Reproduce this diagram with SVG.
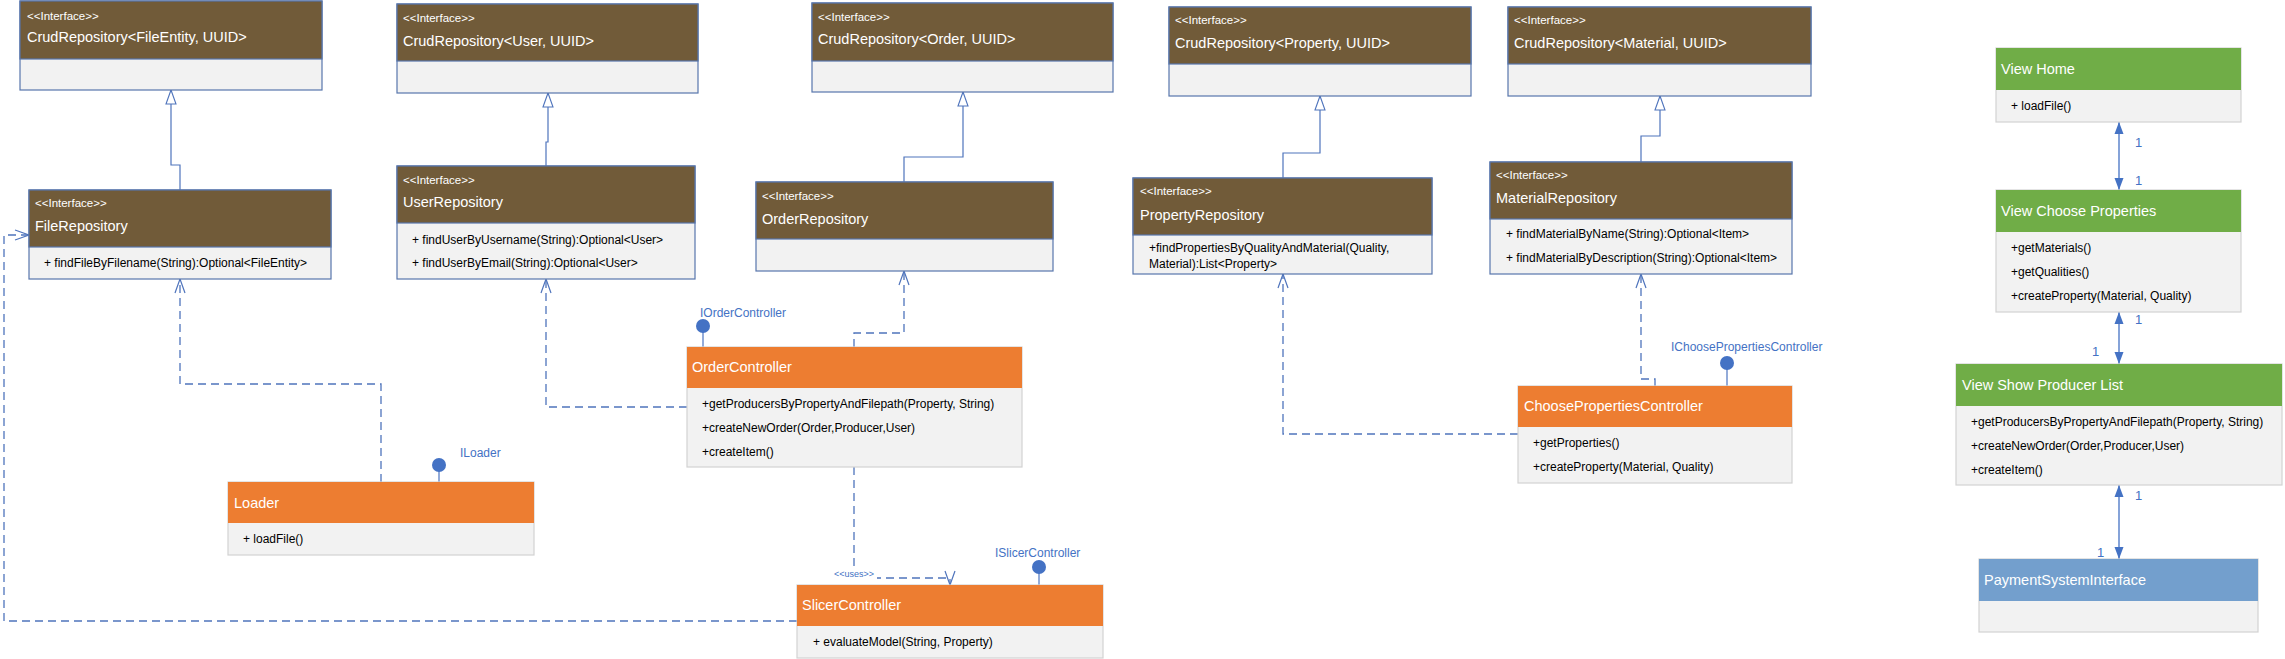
<svg xmlns="http://www.w3.org/2000/svg" width="2285" height="659" viewBox="0 0 2285 659">
<style>
text{font-family:"Liberation Sans",Arial,sans-serif}
.body{fill:#F2F2F2}
.bif{stroke:#5876AC;stroke-width:1.2}
.bcl{stroke:#D2D2D2;stroke-width:1.2}
.hif{fill:#715B39}
.hor{fill:#ED7D31}
.hgr{fill:#70AD47}
.hbl{fill:#739FCD}
.st{font-size:11.5px;fill:#FFFFFF}
.ti{font-size:14.5px;fill:#FFFFFF}
.op{font-size:12px;fill:#000000}
.lb{font-size:12px;fill:#4472C4}
.mu{font-size:13px;fill:#4472C4}
.us{font-size:9px;fill:#4472C4}
.gen{fill:none;stroke:#4F74BC;stroke-width:1.2}
.dep{fill:none;stroke:#4F74BC;stroke-width:1.3;stroke-dasharray:8,5}
.asc{fill:none;stroke:#4472C4;stroke-width:1.3}
.lol{fill:#4472C4}
.stem{stroke:#6F8FCC;stroke-width:1.5}
</style>
<defs>
<marker id="tri" markerUnits="userSpaceOnUse" markerWidth="16" markerHeight="12" refX="14" refY="5" orient="auto" overflow="visible">
<path d="M0,0 L14,5 L0,10 Z" fill="#FFFFFF" stroke="#4F74BC" stroke-width="1.1"/>
</marker>
<marker id="open" markerUnits="userSpaceOnUse" markerWidth="16" markerHeight="12" refX="14" refY="5" orient="auto" overflow="visible">
<path d="M0,0 L14,5 L0,10" fill="none" stroke="#4F74BC" stroke-width="1.2"/>
</marker>
<marker id="fill" markerUnits="userSpaceOnUse" markerWidth="14" markerHeight="12" refX="12" refY="4.5" orient="auto-start-reverse" overflow="visible">
<path d="M0,0 L12,4.5 L0,9 Z" fill="#4472C4"/>
</marker>
</defs>

<g id="connectors">
<path class="gen" d="M180,190 V165 H171 V90" marker-end="url(#tri)"/>
<path class="gen" d="M546,166 V142 H548 V93" marker-end="url(#tri)"/>
<path class="gen" d="M904,182 V157 H963 V92" marker-end="url(#tri)"/>
<path class="gen" d="M1283,178 V153 H1320 V96" marker-end="url(#tri)"/>
<path class="gen" d="M1641,162 V136 H1660 V96" marker-end="url(#tri)"/>
<path class="dep" d="M381,482 V384 H180 V279" marker-end="url(#open)"/>
<path class="dep" d="M687,407 H546 V279" marker-end="url(#open)"/>
<path class="dep" d="M854,347 V333 H904 V271" marker-end="url(#open)"/>
<path class="dep" d="M854,467 V578 H950 V585" marker-end="url(#open)"/>
<path class="dep" d="M797,621 H4 V235 H29" marker-end="url(#open)"/>
<path class="dep" d="M1518,434 H1283 V274" marker-end="url(#open)"/>
<path class="dep" d="M1655,386 V379 H1641 V274" marker-end="url(#open)"/>
<path class="asc" d="M2119,122 V190" marker-start="url(#fill)" marker-end="url(#fill)"/>
<path class="asc" d="M2119,312 V364" marker-start="url(#fill)" marker-end="url(#fill)"/>
<path class="asc" d="M2119,485 V559" marker-start="url(#fill)" marker-end="url(#fill)"/>
<rect x="832" y="568" width="45" height="12" fill="#FFFFFF"/>
<text class="us" x="834" y="577">&lt;&lt;uses&gt;&gt;</text>
<text class="mu" x="2135" y="147">1</text>
<text class="mu" x="2135" y="185">1</text>
<text class="mu" x="2135" y="324">1</text>
<text class="mu" x="2092" y="356">1</text>
<text class="mu" x="2135" y="500">1</text>
<text class="mu" x="2097" y="557">1</text>
</g>

<g id="crudFile">
<rect class="body bif" x="20" y="1" width="302" height="89"/>
<rect class="hif bif" x="20" y="1" width="302" height="58"/>
<text class="st" x="27" y="20">&lt;&lt;Interface&gt;&gt;</text>
<text class="ti" x="27" y="42">CrudRepository&lt;FileEntity, UUID&gt;</text>
</g>
<g id="fileRepository">
<rect class="body bif" x="29" y="190" width="302" height="89"/>
<rect class="hif bif" x="29" y="190" width="302" height="57"/>
<text class="st" x="35" y="207">&lt;&lt;Interface&gt;&gt;</text>
<text class="ti" x="35" y="231">FileRepository</text>
<text class="op" x="44" y="267">+ findFileByFilename(String):Optional&lt;FileEntity&gt;</text>
</g>
<g id="crudUser">
<rect class="body bif" x="397" y="4" width="301" height="89"/>
<rect class="hif bif" x="397" y="4" width="301" height="57"/>
<text class="st" x="403" y="22">&lt;&lt;Interface&gt;&gt;</text>
<text class="ti" x="403" y="46">CrudRepository&lt;User, UUID&gt;</text>
</g>
<g id="userRepository">
<rect class="body bif" x="397" y="166" width="298" height="113"/>
<rect class="hif bif" x="397" y="166" width="298" height="57"/>
<text class="st" x="403" y="184">&lt;&lt;Interface&gt;&gt;</text>
<text class="ti" x="403" y="207">UserRepository</text>
<text class="op" x="412" y="244">+ findUserByUsername(String):Optional&lt;User&gt;</text>
<text class="op" x="412" y="267">+ findUserByEmail(String):Optional&lt;User&gt;</text>
</g>
<g id="crudOrder">
<rect class="body bif" x="812" y="3" width="301" height="89"/>
<rect class="hif bif" x="812" y="3" width="301" height="58"/>
<text class="st" x="818" y="21">&lt;&lt;Interface&gt;&gt;</text>
<text class="ti" x="818" y="44">CrudRepository&lt;Order, UUID&gt;</text>
</g>
<g id="orderRepository">
<rect class="body bif" x="756" y="182" width="297" height="89"/>
<rect class="hif bif" x="756" y="182" width="297" height="57"/>
<text class="st" x="762" y="200">&lt;&lt;Interface&gt;&gt;</text>
<text class="ti" x="762" y="224">OrderRepository</text>
</g>
<g id="crudProperty">
<rect class="body bif" x="1169" y="7" width="302" height="89"/>
<rect class="hif bif" x="1169" y="7" width="302" height="57"/>
<text class="st" x="1175" y="24">&lt;&lt;Interface&gt;&gt;</text>
<text class="ti" x="1175" y="48">CrudRepository&lt;Property, UUID&gt;</text>
</g>
<g id="propertyRepository">
<rect class="body bif" x="1133" y="178" width="299" height="96"/>
<rect class="hif bif" x="1133" y="178" width="299" height="57"/>
<text class="st" x="1140" y="195">&lt;&lt;Interface&gt;&gt;</text>
<text class="ti" x="1140" y="220">PropertyRepository</text>
<text class="op" x="1149" y="252">+findPropertiesByQualityAndMaterial(Quality,</text>
<text class="op" x="1149" y="268">Material):List&lt;Property&gt;</text>
</g>
<g id="crudMaterial">
<rect class="body bif" x="1508" y="7" width="303" height="89"/>
<rect class="hif bif" x="1508" y="7" width="303" height="57"/>
<text class="st" x="1514" y="24">&lt;&lt;Interface&gt;&gt;</text>
<text class="ti" x="1514" y="48">CrudRepository&lt;Material, UUID&gt;</text>
</g>
<g id="materialRepository">
<rect class="body bif" x="1490" y="162" width="302" height="112"/>
<rect class="hif bif" x="1490" y="162" width="302" height="57"/>
<text class="st" x="1496" y="179">&lt;&lt;Interface&gt;&gt;</text>
<text class="ti" x="1496" y="203">MaterialRepository</text>
<text class="op" x="1506" y="238">+ findMaterialByName(String):Optional&lt;Item&gt;</text>
<text class="op" x="1506" y="262">+ findMaterialByDescription(String):Optional&lt;Item&gt;</text>
</g>
<g id="orderController">
<line class="stem" x1="703" y1="330" x2="703" y2="347"/>
<circle class="lol" cx="703" cy="326" r="7"/>
<text class="lb" x="700" y="317">IOrderController</text>
<rect class="body bcl" x="687" y="347" width="335" height="120"/>
<rect class="hor" x="687" y="347" width="335" height="41"/>
<text class="ti" x="692" y="372">OrderController</text>
<text class="op" x="702" y="408">+getProducersByPropertyAndFilepath(Property, String)</text>
<text class="op" x="702" y="432">+createNewOrder(Order,Producer,User)</text>
<text class="op" x="702" y="456">+createItem()</text>
</g>
<g id="loader">
<line class="stem" x1="439" y1="468" x2="439" y2="486"/>
<circle class="lol" cx="439" cy="465" r="7"/>
<text class="lb" x="460" y="457">ILoader</text>
<rect class="body bcl" x="228" y="482" width="306" height="73"/>
<rect class="hor" x="228" y="482" width="306" height="41"/>
<text class="ti" x="234" y="508">Loader</text>
<text class="op" x="243" y="543">+ loadFile()</text>
</g>
<g id="slicerController">
<line class="stem" x1="1039" y1="570" x2="1039" y2="585"/>
<circle class="lol" cx="1039" cy="567" r="7"/>
<text class="lb" x="995" y="557">ISlicerController</text>
<rect class="body bcl" x="797" y="585" width="306" height="73"/>
<rect class="hor" x="797" y="585" width="306" height="41"/>
<text class="ti" x="802" y="610">SlicerController</text>
<text class="op" x="813" y="646">+ evaluateModel(String, Property)</text>
</g>
<g id="choosePropertiesController">
<line class="stem" x1="1727" y1="366" x2="1727" y2="386"/>
<circle class="lol" cx="1727" cy="363" r="7"/>
<text class="lb" x="1671" y="351">IChoosePropertiesController</text>
<rect class="body bcl" x="1518" y="386" width="274" height="97"/>
<rect class="hor" x="1518" y="386" width="274" height="41"/>
<text class="ti" x="1524" y="411">ChoosePropertiesController</text>
<text class="op" x="1533" y="447">+getProperties()</text>
<text class="op" x="1533" y="471">+createProperty(Material, Quality)</text>
</g>
<g id="viewHome">
<rect class="body bcl" x="1996" y="48" width="245" height="74"/>
<rect class="hgr" x="1996" y="48" width="245" height="42"/>
<text class="ti" x="2001" y="74">View Home</text>
<text class="op" x="2011" y="110">+ loadFile()</text>
</g>
<g id="viewChooseProperties">
<rect class="body bcl" x="1996" y="190" width="245" height="122"/>
<rect class="hgr" x="1996" y="190" width="245" height="42"/>
<text class="ti" x="2001" y="216">View Choose Properties</text>
<text class="op" x="2011" y="252">+getMaterials()</text>
<text class="op" x="2011" y="276">+getQualities()</text>
<text class="op" x="2011" y="300">+createProperty(Material, Quality)</text>
</g>
<g id="viewShowProducerList">
<rect class="body bcl" x="1956" y="364" width="326" height="121"/>
<rect class="hgr" x="1956" y="364" width="326" height="42"/>
<text class="ti" x="1962" y="390">View Show Producer List</text>
<text class="op" x="1971" y="426">+getProducersByPropertyAndFilepath(Property, String)</text>
<text class="op" x="1971" y="450">+createNewOrder(Order,Producer,User)</text>
<text class="op" x="1971" y="474">+createItem()</text>
</g>
<g id="paymentSystemInterface">
<rect class="body bcl" x="1979" y="559" width="279" height="73"/>
<rect class="hbl" x="1979" y="559" width="279" height="42"/>
<text class="ti" x="1984" y="585">PaymentSystemInterface</text>
</g>
</svg>
